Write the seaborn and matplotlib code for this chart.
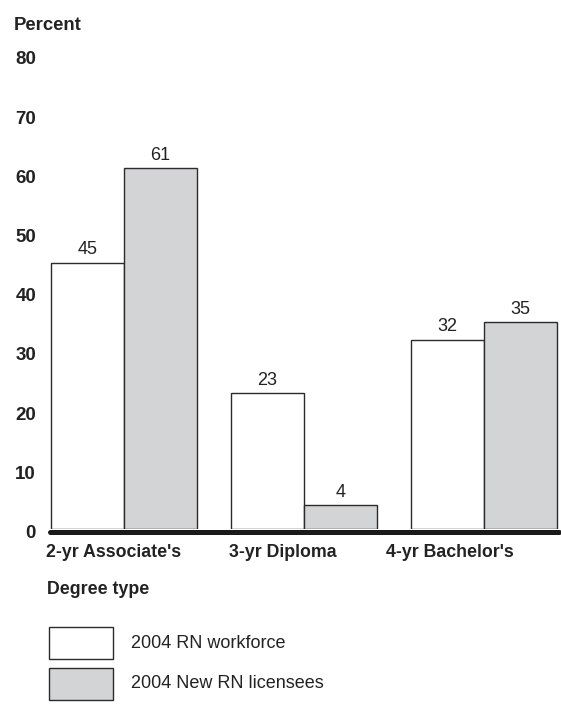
import matplotlib
matplotlib.use("Agg")
import matplotlib.pyplot as plt
import matplotlib.transforms as mtransforms
from matplotlib.patches import Rectangle
import pandas as pd
import seaborn as sns

# Nursing degree types and share (percent) for each group
categories = ["2-yr Associate's", "3-yr Diploma", "4-yr Bachelor's"]
series_names = ["2004 RN workforce", "2004 New RN licensees"]
workforce = [45, 23, 32]
new_licensees = [61, 4, 35]
y_ticks = [0, 10, 20, 30, 40, 50, 60, 70, 80]

df = pd.DataFrame({
    "Degree": categories * 2,
    "Group": [series_names[0]] * 3 + [series_names[1]] * 3,
    "Percent": workforce + new_licensees,
})

sns.set_theme(style="white")
plt.rcParams["font.family"] = ["Liberation Sans", "DejaVu Sans"]

fill_colors = {series_names[0]: "#ffffff", series_names[1]: "#d3d4d6"}
edge_color = "#2b2b2b"
text_color = "#222222"

fig = plt.figure(figsize=(5.61, 7.08), dpi=100)
W, H = 561, 708
ax = fig.add_axes([50 / W, (H - 529) / H, 509 / W, 473.6 / H])

sns.barplot(data=df, x="Degree", y="Percent", hue="Group", order=categories,
            hue_order=series_names, palette=fill_colors, width=0.81, gap=0,
            edgecolor=edge_color, linewidth=1.0, legend=False, ax=ax)

for container in ax.containers:
    ax.bar_label(container, fmt="%d", padding=3, fontsize=13, color=text_color)

ax.set_ylim(0, 80)
ax.set_xlim(-0.411, 2.417)
ax.set_yticks(y_ticks)
ax.set_yticklabels([str(v) for v in y_ticks], fontsize=13.5, fontweight="bold",
                   color=text_color)
ax.tick_params(axis="y", length=0, pad=10)
ax.tick_params(axis="x", length=0, pad=11)
ax.set_xticks(range(len(categories)))
ax.set_xticklabels(categories, fontsize=12.8, fontweight="bold", color=text_color)
# shift tick labels: y labels sit a little low, category labels to their places
for lbl in ax.get_yticklabels():
    lbl.set_transform(lbl.get_transform() +
                      mtransforms.ScaledTranslation(0, -2.5 / 100, fig.dpi_scale_trans))
for lbl, dx in zip(ax.get_xticklabels(), [-10, -21, -34]):
    lbl.set_transform(lbl.get_transform() +
                      mtransforms.ScaledTranslation(dx / 100, 0, fig.dpi_scale_trans))

ax.set_xlabel("")
ax.set_ylabel("")
for side in ["top", "right", "left", "bottom"]:
    ax.spines[side].set_visible(False)

# heavy baseline just under the bars
base = ax.axhline(0, color="#1a1a1a", linewidth=3.6, zorder=5, clip_on=False)
base.set_transform(base.get_transform() +
                   mtransforms.ScaledTranslation(0, -2.5 / 100, fig.dpi_scale_trans))

# axis titles
fig.text(14 / W, 1 - 26 / H, "Percent", fontsize=13.3, fontweight="bold",
         color=text_color, ha="left", va="center")
fig.text(47 / W, 1 - 589 / H, "Degree type", fontsize=12.8, fontweight="bold",
         color=text_color, ha="left", va="center")

# legend drawn as boxes with labels
for i, name in enumerate(series_names):
    top = 627 + i * 41
    fig.add_artist(Rectangle((49 / W, 1 - (top + 32) / H), 64 / W, 32 / H,
                             transform=fig.transFigure, facecolor=fill_colors[name],
                             edgecolor=edge_color, linewidth=1.0))
    fig.text(131 / W, 1 - (top + 16) / H, name, fontsize=13, color=text_color,
             ha="left", va="center")

fig.savefig("out.png", dpi=100, facecolor="white")
